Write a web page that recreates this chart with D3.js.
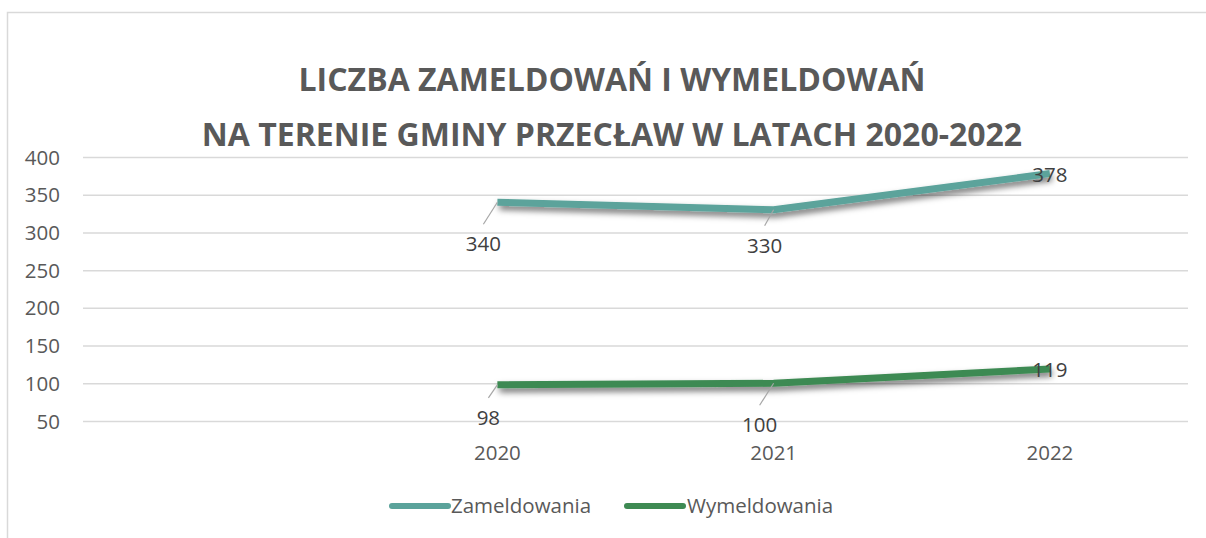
<!DOCTYPE html>
<html>
<head>
<meta charset="utf-8">
<script src="https://cdn.jsdelivr.net/npm/d3@7"></script>
<style>
  body { margin: 0; background: #fff; }
  text { font-family: "Open Sans", "DejaVu Sans", sans-serif; }
</style>
</head>
<body>
<svg id="chart" width="1206" height="538"></svg>
<script>
const categories = ['', '2020', '2021', '2022'];
const zameldowania = [null, 340, 330, 378];
const wymeldowania = [null, 98, 100, 119];
const yTicks = [50, 100, 150, 200, 250, 300, 350, 400];
const titleLines = ['LICZBA ZAMELDOWAŃ I WYMELDOWAŃ', 'NA TERENIE GMINY PRZECŁAW W LATACH 2020-2022'];

const series = [
  { name: 'Zameldowania', values: zameldowania, color: '#5ba39b',
    // label offsets (dx, dy of label baseline) per point
    labels: [null, [-14, 49], [-9, 43], [0, 8]] },
  { name: 'Wymeldowania', values: wymeldowania, color: '#3e8a53',
    labels: [null, [-9, 40], [-14, 49], [0, 8]] },
];

const svg = d3.select('#chart');

const x = d3.scaleBand().domain(categories).range([83, 1188]);
const y = d3.scaleLinear().domain([50, 400]).range([421, 157]);
const cx = d => x(d) + x.bandwidth() / 2;

const defs = svg.append('defs');
defs.append('filter')
  .attr('id', 'shadow')
  .attr('x', '-10%').attr('y', '-50%')
  .attr('width', '120%').attr('height', '300%')
  .append('feDropShadow')
  .attr('dx', 2).attr('dy', 4)
  .attr('stdDeviation', 3)
  .attr('flood-color', '#000')
  .attr('flood-opacity', 0.55);

// chart border
svg.append('path')
  .attr('d', 'M7.5,538 V12.5 H1206')
  .attr('fill', 'none')
  .attr('stroke', '#d9d9d9')
  .attr('stroke-width', 1.5);

// title
svg.append('g')
  .selectAll('text')
  .data(titleLines)
  .join('text')
  .attr('x', 612)
  .attr('y', (d, i) => 91 + i * 55)
  .attr('text-anchor', 'middle')
  .attr('font-size', 32)
  .attr('font-weight', 700)
  .attr('fill', '#595959')
  .text(d => d);

// gridlines + y labels
const yAxis = svg.append('g')
  .attr('transform', 'translate(83,0)')
  .call(d3.axisLeft(y).tickValues(yTicks).tickSize(-1105).tickPadding(23));
yAxis.select('.domain').remove();
yAxis.selectAll('.tick line').attr('stroke', '#d9d9d9').attr('stroke-width', 1.5);
yAxis.selectAll('.tick text')
  .attr('fill', '#595959')
  .attr('font-size', 20.5)
  .attr('dy', 7);

// x labels
const xAxis = svg.append('g')
  .attr('transform', 'translate(0,421)')
  .call(d3.axisBottom(x).tickSize(0).tickPadding(0));
xAxis.select('.domain').remove();
xAxis.selectAll('.tick text')
  .attr('fill', '#595959')
  .attr('font-size', 20.5)
  .attr('dy', 39);

const line = d3.line()
  .defined(d => d.v != null)
  .x(d => cx(d.c))
  .y(d => y(d.v));

series.forEach(s => {
  const pts = categories.map((c, i) => ({ c, v: s.values[i], off: s.labels[i] }));
  svg.append('path')
    .datum(pts)
    .attr('d', line)
    .attr('fill', 'none')
    .attr('stroke', s.color)
    .attr('stroke-width', 7)
    .attr('stroke-linejoin', 'round')
    .attr('filter', 'url(#shadow)');
});

series.forEach(s => {
  const pts = categories.map((c, i) => ({ c, v: s.values[i], off: s.labels[i] }))
    .filter(d => d.v != null);
  const g = svg.append('g');
  // leader lines for labels placed away from the point
  g.selectAll('line')
    .data(pts.filter(d => d.off[1] > 20))
    .join('line')
    .attr('x1', d => cx(d.c))
    .attr('y1', d => y(d.v))
    .attr('x2', d => cx(d.c) + d.off[0])
    .attr('y2', d => y(d.v) + d.off[1] - 27)
    .attr('stroke', '#a6a6a6')
    .attr('stroke-width', 1.2);
  g.selectAll('text')
    .data(pts)
    .join('text')
    .attr('x', d => cx(d.c) + d.off[0])
    .attr('y', d => y(d.v) + d.off[1])
    .attr('text-anchor', 'middle')
    .attr('font-size', 20.5)
    .attr('fill', '#404040')
    .text(d => d.v);
});

// legend
const legend = svg.append('g');
const legendItems = [
  { s: series[0], x1: 392, x2: 448, tx: 451 },
  { s: series[1], x1: 627, x2: 683, tx: 687 },
];
legendItems.forEach(item => {
  legend.append('line')
    .attr('x1', item.x1).attr('x2', item.x2)
    .attr('y1', 506).attr('y2', 506)
    .attr('stroke', item.s.color)
    .attr('stroke-width', 6)
    .attr('stroke-linecap', 'round');
  legend.append('text')
    .attr('x', item.tx)
    .attr('y', 513)
    .attr('font-size', 20.5)
    .attr('fill', '#595959')
    .text(item.s.name);
});
</script>
</body>
</html>
